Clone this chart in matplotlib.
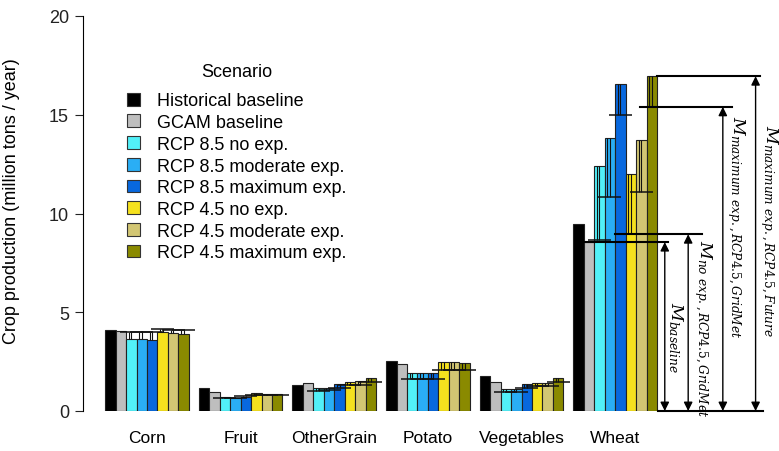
import matplotlib
matplotlib.use('Agg')
import matplotlib.pyplot as plt
from matplotlib.patches import Patch
import numpy as np

plt.rcParams['font.family'] = ['Liberation Sans', 'DejaVu Sans']
plt.rcParams['mathtext.fontset'] = 'dejavuserif'

# ---- data ----
crops = ['Corn', 'Fruit', 'OtherGrain', 'Potato', 'Vegetables', 'Wheat']
scenarios = ['Historical baseline', 'GCAM baseline',
             'RCP 8.5 no exp.', 'RCP 8.5 moderate exp.', 'RCP 8.5 maximum exp.',
             'RCP 4.5 no exp.', 'RCP 4.5 moderate exp.', 'RCP 4.5 maximum exp.']
colors = ['#000000', '#BEBEBE', '#52F0F8', '#2AAEF5', '#0868DE',
          '#F5E11E', '#D2C673', '#8A8A00']

hist_base = [4.12, 1.18, 1.30, 2.55, 1.75, 9.47]
gcam_base = [4.05, 0.95, 1.40, 2.37, 1.47, 8.55]
rcp85_no = [3.65, 0.70, 1.16, 1.92, 1.11, 12.42]
rcp85_mod = [3.65, 0.68, 1.18, 1.92, 1.11, 13.80]
rcp85_max = [3.60, 0.73, 1.36, 1.92, 1.38, 16.55]
rcp45_no = [3.98, 0.89, 1.47, 2.48, 1.42, 12.00]
rcp45_mod = [3.97, 0.86, 1.51, 2.46, 1.43, 13.70]
rcp45_max = [3.92, 0.87, 1.66, 2.45, 1.65, 16.95]

# reference (GridMet) values shown as the error-type marks on the scenario bars
ref85_no = [4.02, 0.68, 1.02, 1.62, 0.98, 8.65]
ref85_mod = [4.02, 0.68, 1.05, 1.62, 0.98, 10.85]
ref85_max = [3.98, 0.76, 1.15, 1.62, 1.18, 15.00]
ref45_no = [4.14, 0.82, 1.30, 2.10, 1.25, 8.95]
ref45_mod = [4.12, 0.82, 1.33, 2.10, 1.25, 11.10]
ref45_max = [4.10, 0.82, 1.45, 2.10, 1.49, 15.40]

series = [hist_base, gcam_base, rcp85_no, rcp85_mod, rcp85_max,
          rcp45_no, rcp45_mod, rcp45_max]
refs = [None, None, ref85_no, ref85_mod, ref85_max, ref45_no, ref45_mod, ref45_max]

# ---- figure ----
fig = plt.figure(figsize=(7.79, 4.52), dpi=100)
ax = fig.add_axes([83 / 779, 40 / 452, 696 / 779, 395 / 452])

x = np.arange(len(crops))
w = 0.1117

for i, (vals, col) in enumerate(zip(series, colors)):
    ax.bar(x + (i - 3.5) * w, vals, width=w, color=col,
           edgecolor='#222222', linewidth=0.8, zorder=2)

for i, ref in enumerate(refs):
    if ref is None:
        continue
    for j in range(len(crops)):
        c = x[j] + (i - 3.5) * w
        lo, hi = sorted([series[i][j], ref[j]])
        ax.vlines([c - 0.25 * w, c], lo, hi, color='#111111', lw=0.8, zorder=3)
        ax.hlines(ref[j], c - 1.1 * w, c + 1.1 * w, color='#111111', lw=1.1, zorder=3)

# ---- annotations on wheat ----
wh = len(crops) - 1
ann_levels = [gcam_base[wh], ref45_no[wh], ref45_max[wh], rcp45_max[wh]]
ann_start = [4.665, 5.0, 5.27, 5.447]
ann_end = [5.56, 5.93, 6.25, 6.55]
ann_arrow_x = [5.53, 5.78, 6.15, 6.50]
ann_text_x = [5.64, 5.94, 6.29, 6.64]
ann_text_y = [3.8, 4.2, 9.35, 9.15]
ann_labels = [r'$M_{baseline}$',
              r'$M_{no\ exp.,RCP4.5,GridMet}$',
              r'$M_{maximum\ exp.,RCP4.5,GridMet}$',
              r'$M_{maximum\ exp.,RCP4.5,Future}$']

for lv, xs, xe, xa, xt, yt, lab in zip(ann_levels, ann_start, ann_end,
                                       ann_arrow_x, ann_text_x, ann_text_y, ann_labels):
    ax.plot([xs, xe], [lv, lv], color='black', lw=1.5, clip_on=False, zorder=4)
    ax.annotate('', xy=(xa, lv), xytext=(xa, 0),
                arrowprops=dict(arrowstyle='<|-|>', color='black', lw=1.0,
                                mutation_scale=13, shrinkA=0, shrinkB=0),
                annotation_clip=False)
    ax.text(xt, yt, lab, rotation=-90, ha='center', va='center',
            fontsize=12.5, clip_on=False)
ax.plot([5.46, 6.58], [0, 0], color='black', lw=1.5, clip_on=False, zorder=4)

# ---- axes ----
ax.set_xlim(-0.684, 6.75)
ax.set_ylim(0, 20)
for s in ['top', 'right', 'bottom']:
    ax.spines[s].set_visible(False)
ax.spines['left'].set_bounds(0, 20)
ax.set_yticks([0, 5, 10, 15, 20])
ax.tick_params(axis='y', length=6, width=0.8, pad=4, labelsize=13, colors='#222222')
ax.set_xticks(x)
ax.set_xticklabels(crops)
ax.tick_params(axis='x', length=0, pad=14, labelsize=12.5)
ax.set_ylabel('Crop production (million tons / year)', fontsize=13)
ax.yaxis.set_label_coords(-0.0905, 0.534)

handles = [Patch(facecolor=c, edgecolor='#333333', linewidth=0.8) for c in colors]
leg = ax.legend(handles, scenarios, title='Scenario', loc='upper left',
                bbox_to_anchor=(127 / 779, 1 - 64 / 452), bbox_transform=fig.transFigure,
                frameon=False, fontsize=13, title_fontsize=13, borderpad=0,
                handlelength=0.72, handleheight=0.72, handletextpad=0.95,
                labelspacing=0.26, borderaxespad=0)
leg._legend_box.sep = 9

fig.savefig('out.png', dpi=100)
